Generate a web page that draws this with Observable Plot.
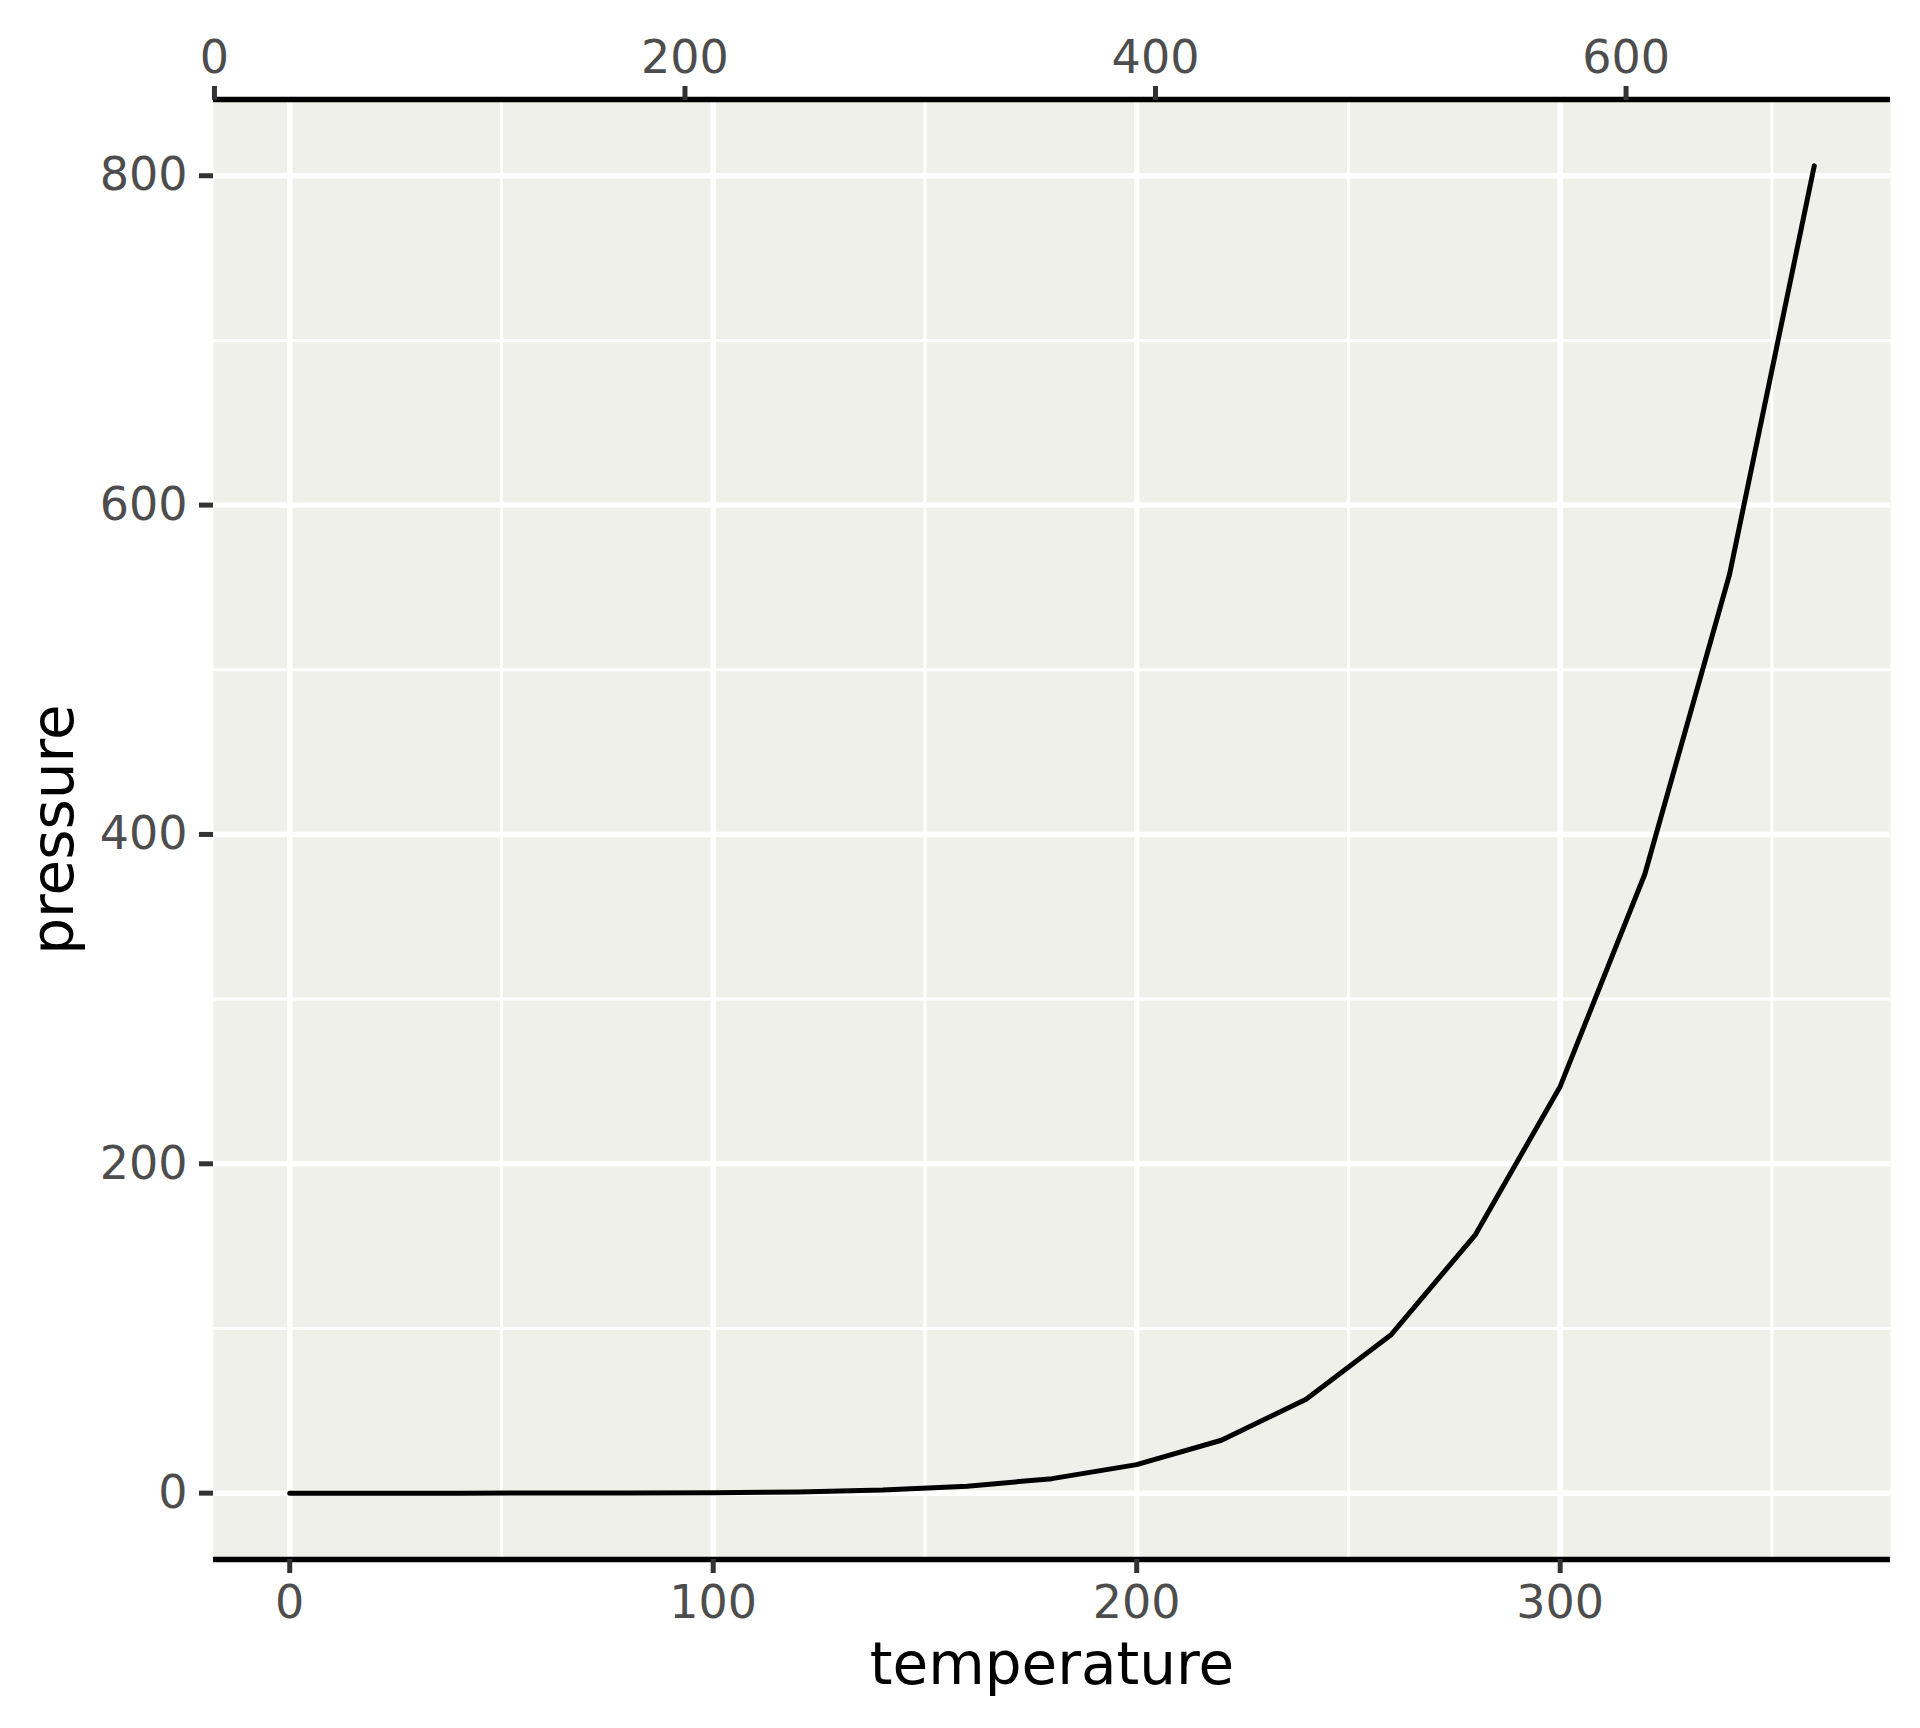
<!DOCTYPE html>
<html>
<head>
<meta charset="utf-8">
<script src="https://cdn.jsdelivr.net/npm/d3@7"></script>
<script src="https://cdn.jsdelivr.net/npm/@observablehq/plot@0.6"></script>
<style>
  html, body { margin: 0; padding: 0; background: #ffffff; }
  #chart svg { display: block; }
</style>
</head>
<body>
<div id="chart"></div>
<script>
// R "pressure" dataset
const temperature = [0, 20, 40, 60, 80, 100, 120, 140, 160, 180, 200, 220, 240, 260, 280, 300, 320, 340, 360];
const pressure = [0.0002, 0.0012, 0.006, 0.03, 0.09, 0.27, 0.75, 1.85, 4.2, 8.8, 17.3, 32.1, 57, 96, 157, 247, 376, 558, 806];

const xMajor = [0, 100, 200, 300];
const xMinor = [50, 150, 250, 350];
const yMajor = [0, 200, 400, 600, 800];
const yMinor = [100, 300, 500, 700];
const fahrenheitTicks = [0, 200, 400, 600];

const data = temperature.map((t, i) => ({temperature: t, pressure: pressure[i]}));

const xDomain = [-18, 378];
const yDomain = [-40.3, 846.3];

const toC = f => (f - 32) / 1.8;
const toF = c => Math.round(c * 1.8 + 32);

const chart = Plot.plot({
  width: 1920,
  height: 1728,
  marginLeft: 213,
  marginRight: 30,
  marginTop: 99,
  marginBottom: 169,
  style: {background: "#ffffff", fontFamily: "DejaVu Sans", overflow: "visible"},
  x: {type: "linear", domain: xDomain},
  y: {type: "linear", domain: yDomain},
  marks: [
    Plot.frame({fill: "#F0F0EA", stroke: "none"}),
    Plot.ruleX(xMinor, {stroke: "#ffffff", strokeWidth: 3}),
    Plot.ruleY(yMinor, {stroke: "#ffffff", strokeWidth: 3}),
    Plot.ruleX(xMajor, {stroke: "#ffffff", strokeWidth: 5.5}),
    Plot.ruleY(yMajor, {stroke: "#ffffff", strokeWidth: 5.5}),
    Plot.line(data, {x: "temperature", y: "pressure", stroke: "#000000", strokeWidth: 5}),
    Plot.ruleY([yDomain[0]], {stroke: "#000000", strokeWidth: 5.5}),
    Plot.ruleY([yDomain[1]], {stroke: "#000000", strokeWidth: 5.5}),
    Plot.axisX(xMajor, {
      anchor: "bottom", tickSize: 14, tickPadding: 12, fontSize: 46,
      stroke: "#333333", fill: "#4D4D4D", strokeWidth: 5, label: null,
      tickFormat: d => String(d)
    }),
    Plot.axisX(fahrenheitTicks.map(toC), {
      anchor: "top", tickSize: 14, tickPadding: 13, fontSize: 46,
      stroke: "#333333", fill: "#4D4D4D", strokeWidth: 5, label: null,
      tickFormat: d => String(toF(d))
    }),
    Plot.axisY(yMajor, {
      anchor: "left", tickSize: 14, tickPadding: 12, fontSize: 46,
      stroke: "#333333", fill: "#4D4D4D", strokeWidth: 5, label: null,
      tickFormat: d => String(d)
    }),
    Plot.text(["temperature"], {
      frameAnchor: "bottom", dy: 106, fontSize: 58, fill: "#000000",
      lineAnchor: "middle", textAnchor: "middle"
    }),
    Plot.text(["pressure"], {
      frameAnchor: "left", dx: -159, rotate: -90, fontSize: 58, fill: "#000000",
      lineAnchor: "middle", textAnchor: "middle"
    })
  ]
});

document.getElementById("chart").appendChild(chart);
</script>
</body>
</html>
